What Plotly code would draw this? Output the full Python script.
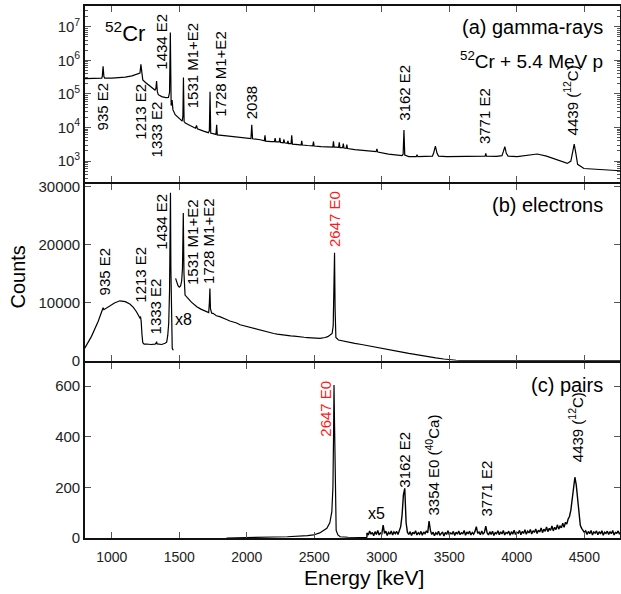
import plotly.graph_objects as go

# ---------------- data ----------------
gamma_energy = [800, 850, 900, 926, 930, 936, 942, 948, 1000, 1050, 1100, 1150, 1195, 1209, 1216, 1222,
                1230, 1250, 1275, 1300, 1320, 1327, 1332, 1338, 1345, 1370, 1400, 1420, 1428, 1434, 1440,
                1447, 1453, 1470, 1500, 1522, 1527, 1531, 1536, 1545, 1580, 1620, 1628, 1634, 1680, 1715,
                1723, 1728, 1733, 1760, 1772, 1777, 1782, 1850, 1900, 1950, 2000, 2031, 2037, 2043, 2100,
                2130, 2135, 2140, 2180, 2205, 2210, 2215, 2240, 2245, 2250, 2270, 2275, 2280, 2300, 2305,
                2310, 2328, 2333, 2338, 2380, 2402, 2407, 2412, 2450, 2489, 2494, 2499, 2550, 2600, 2637,
                2642, 2647, 2660, 2680, 2685, 2690, 2710, 2715, 2720, 2736, 2741, 2746, 2800, 2850, 2900,
                2958, 2964, 2970, 3050, 3100, 3150, 3158, 3164, 3170, 3200, 3255, 3261, 3267, 3330, 3375,
                3385, 3397, 3409, 3420, 3483, 3550, 3650, 3731, 3765, 3770, 3775, 3850, 3890, 3900, 3911,
                3922, 3935, 4003, 4080, 4151, 4220, 4300, 4374, 4400, 4412, 4425, 4438, 4450, 4497, 4600,
                4700, 4775]
gamma_counts = [2.85e5, 2.9e5, 2.9e5, 2.95e5, 3.3e5, 6.7e5, 3.3e5, 2.95e5, 2.95e5, 3.0e5, 3.15e5, 3.45e5,
                3.9e5, 4.2e5, 7.6e5, 3.6e5, 2.6e5, 2.2e5, 1.8e5, 1.5e5, 1.3e5, 1.45e5, 2.4e5, 1.15e5, 9.5e4,
                8.3e4, 7.8e4, 7.9e4, 1.1e5, 6.8e6, 4.5e4, 6.6e4, 3.4e4, 2.4e4, 1.8e4, 1.55e4, 2.2e4, 3.1e5,
                1.5e4, 1.35e4, 1.15e4, 9.5e3, 1.15e4, 9.2e3, 7.8e3, 7.0e3, 8.0e3, 1.15e5, 6.8e3, 6.2e3,
                6.2e3, 1.2e4, 6.0e3, 5.6e3, 5.3e3, 5.1e3, 4.9e3, 4.7e3, 1.2e4, 4.6e3, 4.3e3, 4.0e3, 5.8e3,
                3.9e3, 3.8e3, 3.8e3, 4.8e3, 3.7e3, 3.7e3, 4.9e3, 3.6e3, 3.5e3, 4.4e3, 3.5e3, 3.4e3, 4.0e3,
                3.3e3, 3.3e3, 5.8e3, 3.2e3, 3.1e3, 3.0e3, 4.0e3, 3.0e3, 2.9e3, 2.85e3, 3.8e3, 2.8e3, 2.7e3,
                2.6e3, 2.6e3, 3.9e3, 2.6e3, 2.6e3, 2.55e3, 3.6e3, 2.5e3, 2.5e3, 3.3e3, 2.45e3, 2.4e3, 3.1e3,
                2.35e3, 2.2e3, 2.1e3, 2.0e3, 1.9e3, 2.3e3, 1.85e3, 1.6e3, 1.5e3, 1.45e3, 1.6e3, 8.4e3, 1.5e3,
                1.35e3, 1.35e3, 1.55e3, 1.35e3, 1.35e3, 1.4e3, 1.8e3, 2.8e3, 1.7e3, 1.4e3, 1.35e3, 1.35e3,
                1.38e3, 1.4e3, 1.4e3, 1.7e3, 1.4e3, 1.38e3, 1.45e3, 1.9e3, 2.7e3, 1.7e3, 1.4e3, 1.35e3,
                1.45e3, 1.62e3, 1.4e3, 1.1e3, 850, 1.0e3, 1.8e3, 3.2e3, 1.6e3, 800, 600, 560, 530, 510]

# electrons, unscaled part
elec_energy = [800, 850, 900, 924, 930, 936, 942, 960, 986, 1020, 1060, 1100, 1134, 1160, 1183, 1200,
               1208, 1213, 1218, 1224, 1230, 1240, 1258, 1290, 1320, 1328, 1332, 1336, 1370, 1395, 1407,
               1415, 1422, 1428, 1432, 1435, 1438, 1442, 1448, 1456]
elec_counts = [2140, 4200, 6800, 8450, 8700, 9140, 8800, 9100, 9430, 9950, 10340, 10200, 9780, 9200,
               8450, 7800, 7410, 7600, 6800, 4500, 3100, 2850, 2880, 2800, 2850, 3000, 3300, 2900, 2800,
               3000, 3200, 4400, 6500, 12000, 20000, 29000, 16000, 5000, 2140, 1800]
# electrons, x8 part
elec8_energy = [1473, 1478, 1490, 1500, 1510, 1518, 1524, 1530, 1535, 1543, 1560, 1575, 1590, 1610, 1630,
                1660, 1680, 1704, 1718, 1723, 1727, 1731, 1740, 1750, 1775, 1800, 1825, 1850, 1875, 1900,
                1925, 1950, 1975, 2000, 2025, 2050, 2075, 2100, 2125, 2148, 2175, 2200, 2225, 2250, 2275,
                2300, 2325, 2350, 2375, 2395, 2425, 2450, 2475, 2500, 2525, 2543, 2580, 2600, 2617, 2632,
                2640, 2646, 2650, 2654, 2660, 2679, 2700, 2725, 2750, 2800, 2850, 2900, 2950, 3013, 3050,
                3100, 3150, 3200, 3261, 3300, 3350, 3400, 3459, 3500, 3550, 3632, 3700, 3800, 4000, 4400,
                4775]
elec8_counts = [14200, 13800, 13000, 12700, 12900, 13800, 16000, 25500, 15000, 11330, 10800, 10500, 10100,
                9700, 9310, 8900, 8700, 8450, 8300, 10000, 12480, 9000, 8200, 8170, 7750, 7600, 7300, 7100,
                6850, 6720, 6500, 6200, 6050, 5800, 5700, 5500, 5400, 5200, 5150, 5000, 4800, 4700, 4600,
                4500, 4420, 4350, 4300, 4250, 4150, 4140, 4050, 4000, 3950, 3900, 3950, 3860, 4000, 4150,
                4430, 4700, 6000, 12000, 18620, 9000, 4000, 3570, 3450, 3350, 3200, 3000, 2800, 2600, 2400,
                2140, 1950, 1700, 1480, 1250, 980, 820, 650, 480, 290, 180, 80, 0, 0, 0, 0, 0, 0]

# pairs, unscaled part
pairs_energy = [1850, 1900, 2000, 2100, 2200, 2300, 2395, 2450, 2494, 2540, 2593, 2615, 2630, 2638, 2643,
                2646, 2650, 2654, 2658, 2662, 2675, 2692, 2750, 2850, 2890]
pairs_counts = [0, 1, 2, 3, 4, 5, 6, 9, 12, 20, 38, 60, 104, 200, 420, 604, 450, 200, 60, 30, 12, 5, 3, 2, 2]
# pairs, x5 part (10 keV bins from 2890 keV)
pairs5_start = 2890
pairs5_step = 10
pairs5_counts = [20, 12, 28, 15, 22, 9, 25, 14, 30, 12, 20, 16, 51, 18, 27, 10, 22, 15, 28, 12, 24, 17, 26,
                 14, 30, 45, 90, 170, 196, 60, 22, 14, 25, 10, 23, 16, 29, 12, 21, 15, 26, 11, 24, 17, 28,
                 20, 67, 30, 14, 23, 9, 21, 15, 27, 11, 19, 24, 8, 22, 14, 29, 12, 20, 16, 26, 10, 23, 15,
                 28, 13, 21, 17, 30, 11, 24, 16, 27, 12, 22, 15, 26, 45, 18, 24, 13, 28, 16, 22, 47, 20, 12,
                 25, 14, 27, 10, 21, 17, 29, 13, 24, 16, 30, 12, 22, 18, 27, 11, 25, 15, 31, 14, 23, 19, 30,
                 13, 26, 18, 33, 15, 27, 20, 34, 16, 29, 22, 36, 18, 31, 24, 40, 21, 35, 26, 44, 25, 38, 30,
                 48, 28, 42, 33, 52, 35, 47, 40, 58, 42, 62, 55, 75, 85, 110, 150, 200, 240, 210, 150, 85,
                 50, 38, 30, 22, 28, 14, 26, 17, 30, 12, 24, 19, 28, 13, 25, 16, 29, 11, 23, 18, 27, 14, 25,
                 17, 30, 12, 22, 19, 28, 15, 24]
pairs5_energy = [pairs5_start + pairs5_step * i for i in range(len(pairs5_counts))]

x_ticks = [1000, 1500, 2000, 2500, 3000, 3500, 4000, 4500]
gamma_ticks = [1e3, 1e4, 1e5, 1e6, 1e7]
gamma_ticktext = ["10<sup>3</sup>", "10<sup>4</sup>", "10<sup>5</sup>", "10<sup>6</sup>", "10<sup>7</sup>"]
elec_ticks = [0, 10000, 20000, 30000]
elec_ticktext = ["0", "10000", "20000", "30000"]
pairs_ticks = [0, 200, 400, 600]
pairs_ticktext = ["0", "200", "400", "600"]

# ---------------- figure ----------------
FONT = "Liberation Sans, Arial, sans-serif"
LINE = dict(color="black", width=1.2)
fig = go.Figure()
fig.add_trace(go.Scatter(x=gamma_energy, y=gamma_counts, mode="lines", line=LINE, xaxis="x", yaxis="y"))
fig.add_trace(go.Scatter(x=elec_energy, y=elec_counts, mode="lines", line=LINE, xaxis="x2", yaxis="y2"))
fig.add_trace(go.Scatter(x=elec8_energy, y=elec8_counts, mode="lines", line=LINE, xaxis="x2", yaxis="y2"))
fig.add_trace(go.Scatter(x=pairs_energy, y=pairs_counts, mode="lines", line=LINE, xaxis="x3", yaxis="y3"))
fig.add_trace(go.Scatter(x=[pairs5_energy[0]] + pairs5_energy, y=[pairs_counts[-1]] + pairs5_counts,
                         mode="lines", line=dict(color="black", width=1.4), xaxis="x3", yaxis="y3"))

XR = [802, 4764]
T, B = 6, 538
H = B - T


def py(ypx):
    return (B - ypx) / H


def px(xpx):
    return (xpx - 85) / 535


common_x = dict(range=XR, tickvals=x_ticks, ticks="inside", ticklen=6, tickcolor="#555", tickwidth=1,
                showline=True, linecolor="#111", linewidth=1.6, mirror="ticks", showgrid=False,
                zeroline=False, automargin=False, tickfont=dict(family=FONT, size=14, color="#222"))
common_y = dict(ticks="inside", ticklen=6, tickcolor="#555", tickwidth=1, showline=True, linecolor="#111",
                linewidth=1.6, mirror="ticks", showgrid=False, zeroline=False, automargin=False,
                tickfont=dict(family=FONT, size=15, color="#222"))

fig.update_layout(
    width=621, height=594, margin=dict(l=85, r=1, t=T, b=594 - B, autoexpand=False),
    paper_bgcolor="white", plot_bgcolor="white", showlegend=False,
    font=dict(family=FONT, color="black"),
    xaxis=dict(common_x, anchor="y", showticklabels=False),
    xaxis2=dict(common_x, anchor="y2", showticklabels=False, matches="x"),
    xaxis3=dict(common_x, anchor="y3", showticklabels=True, matches="x", ticklabelstandoff=5),
    yaxis=dict(common_y, type="log", domain=[py(181.5), 1.0], range=[2.39, 7.62], tickvals=gamma_ticks,
               ticktext=gamma_ticktext,
               minor=dict(ticks="inside", ticklen=3, tickcolor="#555",
                          tickvals=[m * d for d in [1e2, 1e3, 1e4, 1e5, 1e6, 1e7] for m in range(2, 10)])),
    yaxis2=dict(common_y, domain=[py(360.7), py(184)], range=[0, 30500], tickvals=elec_ticks,
                ticktext=elec_ticktext),
    yaxis3=dict(common_y, domain=[0, py(363.3)], range=[0, 690], tickvals=pairs_ticks,
                ticktext=pairs_ticktext),
)

ann = []


def lab(text, x, ypx, yref="paper", angle=-90, color="black", size=15, xanchor="center", xref="x"):
    ann.append(dict(text=text, x=x, y=py(ypx), xref=xref, yref=yref, textangle=angle, showarrow=False,
                    xanchor=xanchor, yanchor="middle", font=dict(family=FONT, size=size, color=color)))


RED = "#ff1a1a"
# panel a
lab("<sup>52</sup>Cr", 933, 32, angle=0, size=22, xanchor="left")
lab("935 E2", 935, 106.5)
lab("1213 E2", 1207, 112)
lab("1333 E2", 1331, 129)
lab("1434 E2", 1372, 41.7)
lab("1531 M1+E2", 1598, 65.8)
lab("1728 M1+E2", 1800, 74)
lab("2038", 2035, 102.8)
lab("3162 E2", 3162, 93)
lab("3771 E2", 3765, 116)
lab("4439 (<sup>12</sup>C)", 4404, 100)
lab("(a) gamma-rays", 4651, 26.7, angle=0, size=20, xanchor="right")
lab("<sup>52</sup>Cr + 5.4 MeV p", 4651, 60, angle=0, size=19, xanchor="right")
# panel b
lab("935 E2", 948, 271.7)
lab("1213 E2", 1207, 275)
lab("1333 E2", 1326, 306.7)
lab("1434 E2", 1372, 221.7)
lab("1531 M1+E2", 1598, 242.5)
lab("1728 M1+E2", 1720, 241)
lab("x8", 1528, 319.3, angle=0, size=16)
lab("2647 E0", 2646, 219, color=RED)
lab("(b) electrons", 4651, 205, angle=0, size=20, xanchor="right")
# panel c
lab("2647 E0", 2577, 409, color=RED)
lab("x5", 2960, 513.3, angle=0, size=16)
lab("3162 E2", 3162, 460)
lab("3354 E0 (<sup>40</sup>Ca)", 3372, 465.5)
lab("3771 E2", 3768, 489)
lab("4439 (<sup>12</sup>C)", 4436, 427.5)
lab("(c) pairs", 4651, 385, angle=0, size=20, xanchor="right")
# axis titles
lab("Counts", px(17.5), 277, xref="paper", size=20)
lab("Energy [keV]", px(364), 577, xref="paper", angle=0, size=21)

fig.update_layout(annotations=ann)
fig.write_html("out.html", config={"displayModeBar": False},
               post_script="document.body.style.margin='0px';")
